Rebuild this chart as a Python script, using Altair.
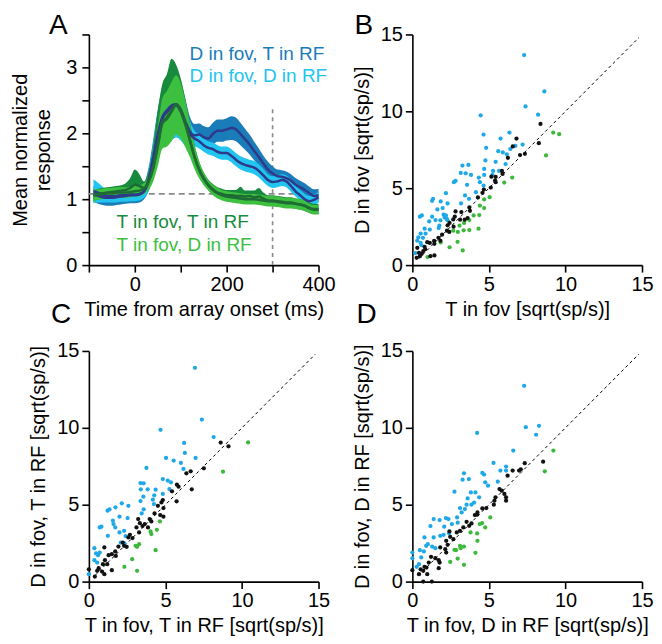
import altair as alt
import pandas as pd

FONT = "Liberation Sans"
PW, PH = 230, 231

# ---------------- Panel A: time courses ----------------
T = [-90, -80, -70, -60, -50, -40, -30, -20, -10, 0, 10, 20, 30, 40, 50, 60, 70, 80, 90, 100,
     110, 120, 130, 140, 150, 160, 170, 180, 190, 200, 210, 220, 230, 240, 250, 260, 270, 280, 290, 300,
     310, 320, 330, 340, 350, 360, 370, 380, 390, 400]

# D in fov, T in RF
DT_mean = [1.08, 1.05, 1.03, 1.02, 1.02, 1.03, 1.04, 1.05, 1.06, 1.06, 1.07, 1.12, 1.30, 1.62, 1.98, 2.25, 2.35, 2.42, 2.44, 2.36,
           2.18, 2.03, 1.97, 1.98, 1.94, 1.92, 1.99, 2.04, 2.04, 2.06, 2.08, 2.06, 1.99, 1.91, 1.83, 1.73, 1.64, 1.54, 1.45, 1.39,
           1.35, 1.34, 1.32, 1.28, 1.22, 1.18, 1.14, 1.09, 1.05, 1.06]
DT_hw = [0.12, 0.12, 0.12, 0.12, 0.12, 0.12, 0.12, 0.12, 0.12, 0.12, 0.12, 0.12, 0.18, 0.28, 0.38, 0.45, 0.50, 0.52, 0.50, 0.45,
         0.35, 0.22, 0.17, 0.17, 0.17, 0.17, 0.17, 0.17, 0.17, 0.17, 0.18, 0.18, 0.17, 0.16, 0.15, 0.14, 0.13, 0.12, 0.12, 0.11,
         0.10, 0.10, 0.10, 0.10, 0.10, 0.10, 0.10, 0.10, 0.10, 0.10]
# D in fov, D in RF
DD_mean = [1.12, 1.10, 1.07, 1.05, 1.05, 1.05, 1.06, 1.06, 1.07, 1.07, 1.08, 1.12, 1.28, 1.58, 1.95, 2.22, 2.32, 2.40, 2.42, 2.33,
           2.15, 1.99, 1.92, 1.88, 1.82, 1.78, 1.76, 1.72, 1.70, 1.70, 1.66, 1.60, 1.55, 1.52, 1.50, 1.48, 1.43, 1.36, 1.29, 1.26,
           1.27, 1.29, 1.27, 1.20, 1.12, 1.06, 1.00, 0.97, 0.99, 1.03]
DD_hw = [0.18, 0.15, 0.12, 0.10, 0.10, 0.10, 0.10, 0.10, 0.10, 0.10, 0.10, 0.10, 0.16, 0.26, 0.36, 0.44, 0.48, 0.50, 0.48, 0.44,
         0.34, 0.20, 0.12, 0.11, 0.10, 0.10, 0.10, 0.10, 0.10, 0.10, 0.10, 0.10, 0.10, 0.10, 0.10, 0.10, 0.10, 0.10, 0.09, 0.09,
         0.09, 0.09, 0.09, 0.09, 0.08, 0.08, 0.08, 0.08, 0.08, 0.08]
# T in fov, T in RF
TT_mean = [1.06, 1.08, 1.09, 1.10, 1.11, 1.12, 1.13, 1.14, 1.17, 1.22, 1.20, 1.17, 1.27, 1.48, 1.82, 2.17, 2.24, 2.35, 2.44, 2.35,
           2.15, 1.90, 1.65, 1.45, 1.32, 1.22, 1.15, 1.10, 1.08, 1.06, 1.06, 1.05, 1.05, 1.04, 1.05, 1.03, 1.04, 1.01, 0.98, 0.98,
           0.97, 0.96, 0.95, 0.95, 0.93, 0.92, 0.90, 0.87, 0.85, 0.85]
TT_up = [0.08, 0.08, 0.08, 0.08, 0.08, 0.08, 0.08, 0.10, 0.15, 0.23, 0.18, 0.10, 0.15, 0.32, 0.52, 0.58, 0.66, 0.78, 0.60, 0.48,
         0.36, 0.26, 0.18, 0.12, 0.09, 0.08, 0.08, 0.08, 0.08, 0.08, 0.08, 0.09, 0.14, 0.09, 0.08, 0.10, 0.13, 0.09, 0.08, 0.08,
         0.08, 0.08, 0.08, 0.08, 0.08, 0.08, 0.08, 0.08, 0.08, 0.08]
TT_dn = [0.08, 0.08, 0.08, 0.08, 0.08, 0.08, 0.08, 0.08, 0.08, 0.08, 0.08, 0.08, 0.10, 0.18, 0.28, 0.36, 0.40, 0.42, 0.42, 0.40,
         0.32, 0.22, 0.16, 0.12, 0.09, 0.08, 0.08, 0.08, 0.08, 0.08, 0.08, 0.08, 0.08, 0.08, 0.08, 0.08, 0.08, 0.08, 0.08, 0.08,
         0.08, 0.08, 0.08, 0.08, 0.08, 0.08, 0.08, 0.08, 0.08, 0.08]
# T in fov, D in RF
TD_mean = [1.05, 1.07, 1.08, 1.09, 1.09, 1.10, 1.10, 1.10, 1.11, 1.12, 1.13, 1.16, 1.26, 1.47, 1.80, 2.15, 2.22, 2.33, 2.43, 2.34,
           2.14, 1.89, 1.64, 1.45, 1.31, 1.21, 1.14, 1.09, 1.06, 1.04, 1.03, 1.02, 1.01, 1.00, 1.00, 1.00, 0.99, 0.98, 0.97, 0.97,
           0.96, 0.95, 0.94, 0.94, 0.93, 0.92, 0.90, 0.86, 0.84, 0.84]
TD_hw = [0.10, 0.08, 0.08, 0.08, 0.08, 0.08, 0.08, 0.08, 0.08, 0.08, 0.08, 0.08, 0.12, 0.20, 0.30, 0.38, 0.42, 0.45, 0.45, 0.42,
         0.35, 0.25, 0.18, 0.13, 0.10, 0.08, 0.08, 0.08, 0.08, 0.08, 0.08, 0.08, 0.08, 0.08, 0.08, 0.08, 0.08, 0.08, 0.08, 0.08,
         0.08, 0.08, 0.08, 0.08, 0.08, 0.08, 0.08, 0.07, 0.07, 0.07]

SERIES = ["D in fov, T in RF", "D in fov, D in RF", "T in fov, T in RF", "T in fov, D in RF"]
BAND_COLORS = ["#1b7cba", "#22c4f0", "#178a3e", "#3dbf3f"]
LINE_COLORS = ["#2d3a8c", "#2d3a8c", "#1e6b34", "#1e6b34"]

rows = []
for name, mean, up, dn in [
    (SERIES[0], DT_mean, DT_hw, DT_hw),
    (SERIES[1], DD_mean, DD_hw, DD_hw),
    (SERIES[2], TT_mean, TT_up, TT_dn),
    (SERIES[3], TD_mean, TD_hw, TD_hw),
]:
    for t, m, u, d in zip(T, mean, up, dn):
        rows.append({"t": t, "series": name, "mean": m, "lo": m - d, "hi": m + u})
ts = pd.DataFrame(rows)

# reference lines
HLINE = pd.DataFrame({"t": [-100], "t2": [400], "v": [1.08]})
VLINE = pd.DataFrame({"t": [300], "v": [0.0], "v2": [2.4]})

# series labels (data coordinates)
LABELS = pd.DataFrame({
    "t": [119, 119, -40, -40],
    "v": [3.11, 2.78, 0.56, 0.22],
    "text": SERIES,
    "color": BAND_COLORS,
})

xA = alt.Scale(domain=[-100, 400], nice=False, zero=False)
yA = alt.Scale(domain=[0, 3.5], nice=False, zero=False)
axA_x = alt.Axis(values=[-100, 0, 100, 200, 300, 400], format="d",
                 labelExpr="datum.value % 200 === 0 ? datum.label : ''",
                 title="Time from array onset (ms)", labelPadding=2, titlePadding=5)
axA_y = alt.Axis(values=[0, 0.5, 1, 1.5, 2, 2.5, 3, 3.5], format=".0f",
                 labelExpr="datum.value % 1 === 0 ? datum.label : ''",
                 title=["Mean normalized", "response"], titleLineHeight=23,
                 labelPadding=5, titlePadding=12)

layersA = []
layersA.append(alt.Chart(HLINE).mark_rule(color="#8a8a8a", strokeDash=[6, 4], strokeWidth=1.6).encode(
    x=alt.X("t:Q", scale=xA, axis=axA_x), x2="t2:Q", y=alt.Y("v:Q", scale=yA, axis=axA_y)))
layersA.append(alt.Chart(VLINE).mark_rule(color="#8a8a8a", strokeDash=[4, 4], strokeWidth=1.6).encode(
    x=alt.X("t:Q", scale=xA, axis=axA_x), y=alt.Y("v:Q", scale=yA, axis=axA_y), y2="v2:Q"))
for name, col in zip(SERIES, BAND_COLORS):
    layersA.append(alt.Chart(ts).transform_filter(alt.datum.series == name).mark_area(
        color=col, opacity=1, interpolate="monotone").encode(
        x=alt.X("t:Q", scale=xA, axis=axA_x), y=alt.Y("lo:Q", scale=yA, axis=axA_y), y2="hi:Q"))
for name, col in zip(SERIES, LINE_COLORS):
    layersA.append(alt.Chart(ts).transform_filter(alt.datum.series == name).mark_line(
        color=col, strokeWidth=2.5, interpolate="monotone").encode(
        x=alt.X("t:Q", scale=xA, axis=axA_x), y=alt.Y("mean:Q", scale=yA, axis=axA_y)))
layersA.append(alt.Chart(LABELS).mark_text(align="left", baseline="alphabetic", font=FONT, fontSize=19).encode(
    x=alt.X("t:Q", scale=xA, axis=axA_x), y=alt.Y("v:Q", scale=yA, axis=axA_y),
    text="text:N", color=alt.Color("color:N", scale=None)))

panelA = alt.layer(*layersA).properties(
    width=PW, height=PH, title=alt.TitleParams("A", dx=-40, dy=20))

# ---------------- Scatter panels ----------------
B_blue = [(7.30, 13.66), (8.62, 11.29), (7.39, 10.32), (8.21, 9.78), (4.46, 9.74), (4.65, 8.49), (5.76, 8.23), (6.34, 8.62),
          (4.82, 7.63), (5.61, 7.41), (5.91, 7.33), (6.17, 7.20), (7.20, 7.84), (6.73, 7.76), (6.40, 7.55), (4.77, 6.81),
          (5.44, 6.72), (6.09, 6.57), (3.66, 6.51), (3.27, 6.47), (3.16, 5.99), (3.48, 5.97), (3.83, 5.86), (4.69, 6.25),
          (5.27, 6.12), (5.66, 6.12), (4.69, 5.86), (2.82, 5.47), (2.71, 5.39), (3.57, 5.22), (4.34, 5.69), (4.41, 5.39),
          (5.23, 5.86), (4.15, 4.74), (4.65, 5.17), (3.44, 4.53), (3.70, 4.31), (1.35, 4.31), (1.29, 4.18), (1.85, 4.14),
          (2.19, 4.68), (2.30, 4.01), (3.18, 4.01), (1.98, 3.71), (1.63, 3.62), (1.10, 2.84), (0.62, 3.23), (0.49, 3.15),
          (1.29, 3.15), (1.51, 2.93), (2.04, 3.28), (2.19, 3.23), (2.11, 3.10), (2.24, 3.02), (2.30, 2.91), (1.83, 2.91),
          (1.76, 2.56), (1.72, 2.41), (0.80, 2.37), (1.14, 2.31), (0.54, 2.05), (0.86, 2.05), (0.39, 1.81), (0.69, 1.77),
          (0.32, 1.59), (0.54, 1.44), (0.60, 1.29), (0.20, 0.78)]
B_black = [(8.37, 9.18), (6.80, 8.23), (6.56, 7.72), (6.24, 6.98), (7.03, 7.16), (7.35, 7.24), (8.26, 7.93), (5.89, 5.93),
           (5.85, 6.12), (5.44, 5.73), (5.40, 5.50), (5.12, 5.04), (4.67, 4.91), (4.58, 4.70), (4.28, 4.40), (3.72, 3.75),
           (3.76, 3.53), (3.20, 3.45), (2.82, 3.49), (2.77, 3.15), (3.12, 2.95), (3.42, 2.95), (3.61, 3.06), (2.67, 2.97),
           (2.43, 2.74), (2.30, 2.59), (2.26, 2.24), (2.41, 2.16), (1.94, 1.98), (1.70, 1.77), (1.83, 1.59), (1.42, 1.57),
           (1.44, 1.38), (1.14, 1.44), (0.97, 1.49), (0.80, 1.19), (0.84, 1.03), (0.71, 0.91), (0.43, 0.80), (0.60, 0.73),
           (0.49, 0.58), (1.44, 0.63), (1.18, 0.58), (0.32, 1.12), (0.28, 0.47), (2.69, 2.50), (5.16, 5.75), (5.44, 5.39)]
B_green = [(9.20, 8.62), (9.59, 8.51), (8.73, 7.13), (6.52, 5.69), (6.00, 5.37), (5.05, 4.42), (4.69, 4.27), (4.69, 3.71),
           (4.41, 3.86), (4.37, 3.25), (4.00, 3.23), (3.72, 2.93), (3.38, 2.74), (3.08, 2.56), (3.35, 2.26), (2.67, 2.24),
           (2.97, 2.16), (3.72, 2.28), (4.32, 2.37), (1.85, 1.47), (2.95, 1.51), (2.43, 1.16), (3.29, 0.95), (0.99, 0.52)]

C_blue = [(6.93, 13.9), (7.38, 10.54), (8.15, 9.40), (4.68, 9.87), (6.22, 9.02), (6.27, 8.37), (6.97, 8.04), (5.04, 8.04),
          (5.54, 7.87), (6.01, 7.72), (6.18, 7.33), (3.76, 7.39), (4.83, 6.67), (5.15, 6.57), (5.36, 6.46), (3.37, 6.41),
          (3.58, 6.39), (3.39, 6.0), (3.84, 6.0), (4.36, 5.98), (4.83, 5.7), (5.26, 6.02), (4.27, 5.61), (3.56, 5.52),
          (3.37, 5.24), (4.18, 5.33), (4.25, 5.04), (2.58, 4.93), (2.15, 5.09), (1.74, 4.83), (1.35, 4.7), (1.22, 4.61),
          (3.58, 4.7), (3.45, 4.43), (2.0, 4.22), (2.53, 4.13), (1.57, 3.96), (1.61, 3.74), (0.82, 3.57), (0.71, 3.52),
          (1.72, 3.52), (2.3, 3.3), (2.0, 3.2), (1.24, 2.98), (2.4, 2.96), (2.08, 2.54), (2.32, 2.48), (0.36, 2.17),
          (0.71, 1.89), (0.6, 1.72), (0.47, 1.83), (0.36, 1.39), (0.54, 1.24), (0.0, 0.48)]
C_black = [(8.61, 9.04), (9.12, 8.8), (7.51, 7.37), (6.65, 7.17), (6.37, 7.04), (6.72, 6.0), (5.75, 6.3), (5.86, 6.17),
           (5.43, 5.87), (5.73, 5.22), (4.83, 5.3), (4.74, 5.15), (4.51, 4.93), (4.87, 4.78), (4.66, 4.33), (4.87, 4.22),
           (4.29, 4.43), (3.97, 4.07), (4.08, 3.91), (3.22, 4.07), (3.33, 3.8), (3.65, 3.74), (3.5, 3.61), (3.11, 3.52),
           (3.86, 3.52), (3.28, 3.2), (2.68, 3.04), (2.58, 2.87), (2.85, 2.83), (2.21, 2.54), (2.3, 2.33), (2.47, 2.26),
           (1.93, 2.28), (1.72, 1.96), (1.5, 1.78), (1.76, 1.67), (1.01, 2.22), (1.29, 1.72), (1.05, 1.39), (0.92, 1.13),
           (1.2, 1.13), (0.64, 0.87), (0.54, 0.7), (0.86, 0.65), (1.5, 0.74), (1.01, 0.48), (0.39, 0.33), (0.0, 0.8)]
C_green = [(10.4, 9.05), (8.76, 7.15), (4.64, 3.91), (4.03, 3.26), (4.08, 3.09), (4.44, 3.37), (3.28, 2.43), (3.05, 2.33),
           (3.15, 2.26), (4.36, 2.04), (2.83, 1.46), (2.32, 0.96), (3.15, 0.7)]

D_blue = [(7.3, 12.73), (8.27, 10.13), (7.41, 10.04), (8.08, 9.55), (4.23, 9.67), (6.59, 8.52), (5.3, 7.72), (5.75, 7.22),
          (6.12, 7.22), (6.12, 7.48), (4.57, 7.07), (4.68, 6.96), (3.37, 7.04), (3.28, 6.63), (3.69, 6.67), (4.76, 6.46),
          (5.58, 6.5), (4.94, 6.24), (2.75, 5.85), (3.82, 5.8), (4.12, 5.8), (4.36, 5.48), (3.61, 5.41), (4.03, 5.13),
          (3.11, 4.78), (3.43, 4.72), (3.54, 5.0), (3.86, 5.0), (3.22, 4.5), (2.92, 4.17), (1.39, 4.07), (1.78, 4.0),
          (2.19, 4.13), (2.36, 4.07), (1.18, 3.61), (2.08, 3.57), (2.96, 3.83), (2.58, 3.74), (2.4, 3.15), (2.04, 3.04),
          (1.82, 2.98), (1.39, 2.87), (0.79, 2.87), (1.01, 2.43), (0.9, 2.33), (1.29, 2.28), (1.5, 2.17), (0.49, 2.04),
          (0.75, 1.96), (0.0, 1.89), (0.0, 1.52), (0.58, 1.57), (0.43, 1.13), (0.28, 0.96)]
D_black = [(8.54, 7.8), (7.34, 7.7), (7.08, 7.3), (6.97, 7.22), (6.55, 7.22), (6.22, 6.89), (5.84, 5.91), (6.01, 5.7),
           (6.12, 5.48), (6.12, 5.26), (5.69, 6.02), (5.43, 5.48), (5.36, 5.26), (5.32, 5.0), (4.83, 4.78), (4.57, 4.76),
           (4.25, 4.5), (4.08, 4.33), (3.54, 3.89), (3.71, 3.63), (3.86, 3.78), (4.23, 4.35), (3.33, 3.52), (3.11, 3.3),
           (2.9, 3.2), (2.42, 3.26), (2.47, 2.91), (2.68, 2.76), (2.21, 2.65), (2.3, 2.39), (2.15, 2.11), (2.21, 1.89),
           (1.82, 2.22), (1.22, 1.61), (1.5, 1.52), (1.72, 1.39), (1.78, 1.24), (1.72, 0.87), (1.07, 1.24), (0.92, 0.91),
           (0.79, 0.96), (0.71, 0.7), (0.97, 0.48), (0.43, 0.48), (0.54, 0.8), (1.27, 0.0), (0.71, 0.0), (0.0, 0.74)]
D_green = [(9.21, 8.52), (8.65, 7.17), (5.09, 4.17), (4.76, 3.52), (4.4, 3.74), (4.55, 3.8), (4.23, 3.13), (3.8, 3.2),
           (4.25, 2.65), (3.37, 2.28), (3.11, 2.33), (3.15, 2.17), (2.75, 2.07), (2.85, 2.04), (4.12, 1.87), (2.47, 1.28),
           (2.96, 1.5), (3.37, 1.09)]

DIAG = pd.DataFrame({"x": [0.4, 14.8], "y": [0.4, 14.8]})
GROUPS = ["blue", "green", "black"]
GROUP_COLORS = ["#1fa8e8", "#3cb93c", "#111111"]


def scatter_panel(letter, blue, black, green, xtitle, ytitle, dx, dy):
    pts = ([{"x": x, "y": y, "g": "blue", "o": 0} for x, y in blue]
           + [{"x": x, "y": y, "g": "green", "o": 1} for x, y in green]
           + [{"x": x, "y": y, "g": "black", "o": 2} for x, y in black])
    df = pd.DataFrame(pts)
    sc = alt.Scale(domain=[0, 15], nice=False, zero=False)
    ax_x = alt.Axis(values=[0, 5, 10, 15], format="d", title=xtitle, labelPadding=2, titlePadding=5)
    ax_y = alt.Axis(values=[0, 5, 10, 15], format="d", title=ytitle, labelPadding=3, titlePadding=8)
    diag = alt.Chart(DIAG).mark_line(color="black", strokeDash=[3, 3], strokeWidth=1).encode(
        x=alt.X("x:Q", scale=sc, axis=ax_x), y=alt.Y("y:Q", scale=sc, axis=ax_y))
    dots = alt.Chart(df).mark_circle(size=18, opacity=1).encode(
        x=alt.X("x:Q", scale=sc, axis=ax_x), y=alt.Y("y:Q", scale=sc, axis=ax_y),
        color=alt.Color("g:N", scale=alt.Scale(domain=GROUPS, range=GROUP_COLORS), legend=None),
        order="o:Q")
    return alt.layer(diag, dots).properties(
        width=PW, height=PH, title=alt.TitleParams(letter, dx=dx, dy=dy))


panelB = scatter_panel("B", B_blue, B_black, B_green, "T in fov [sqrt(sp/s)]", "D in fov [sqrt(sp/s)]", -58, 20)
panelC = scatter_panel("C", C_blue, C_black, C_green, "T in fov, T in RF [sqrt(sp/s)]",
                       "D in fov, T in RF [sqrt(sp/s)]", -38, -8)
panelD = scatter_panel("D", D_blue, D_black, D_green, "T in fov, D in RF [sqrt(sp/s)]",
                       "D in fov, D in RF [sqrt(sp/s)]", -56, -8)

chart = alt.concat(
    panelA, panelB, panelC, panelD,
    columns=2,
    spacing=alt.RowColnumber(column=94, row=86),
    bounds="flush",
).properties(
    padding={"left": 2, "top": 4, "right": 0, "bottom": 0},
).configure_view(stroke=None).configure_axis(
    grid=False, domainColor="black", tickColor="black", labelColor="black", titleColor="black",
    labelFont=FONT, titleFont=FONT, labelFontSize=20, titleFontSize=20, titleFontWeight="normal",
    tickSize=7, tickWidth=1.6, domainWidth=1.6, labelFlush=False, labelOverlap=False,
).configure_title(
    font=FONT, fontSize=28, fontWeight="normal", anchor="start", frame="group",
    baseline="alphabetic", offset=0, color="black",
)

chart.save("out.html", embed_options={"renderer": "svg", "actions": False})
